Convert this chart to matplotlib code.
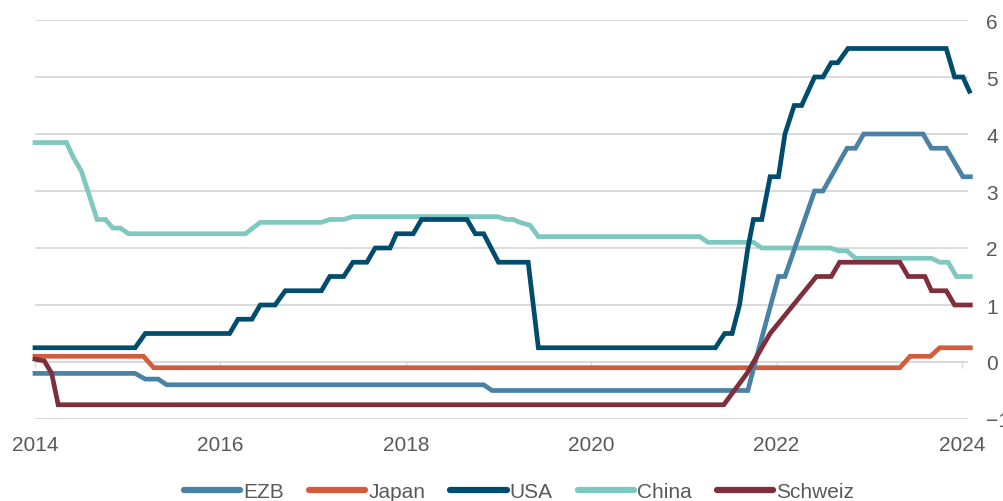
import matplotlib.pyplot as plt

plt.rcParams["font.family"] = ["Liberation Sans", "DejaVu Sans"]

# Leitzinsen, x in Jahren (Achsenposition), y in Prozent
ezb_x = [2014.00, 2015.08, 2015.19, 2015.33, 2015.42, 2018.84, 2018.93, 2021.69, 2021.77,
         2022.02, 2022.09, 2022.41, 2022.50, 2022.76, 2022.85, 2022.94, 2023.58, 2023.67,
         2023.83, 2024.01, 2024.09]
ezb_y = [-0.2, -0.2, -0.3, -0.3, -0.4, -0.4, -0.5, -0.5, 0.0,
         1.5, 1.5, 3.0, 3.0, 3.75, 3.75, 4.0, 4.0, 3.75,
         3.75, 3.25, 3.25]

japan_x = [2014.00, 2015.17, 2015.28, 2023.33, 2023.44, 2023.66, 2023.76, 2024.09]
japan_y = [0.1, 0.1, -0.1, -0.1, 0.1, 0.1, 0.25, 0.25]

usa_x = [2014.00, 2015.08, 2015.19, 2016.10, 2016.19, 2016.34, 2016.43, 2016.59, 2016.70,
         2017.09, 2017.18, 2017.33, 2017.43, 2017.58, 2017.67, 2017.83, 2017.90, 2018.08,
         2018.17, 2018.66, 2018.75, 2018.84, 2019.00, 2019.32, 2019.43, 2021.34, 2021.44,
         2021.52, 2021.60, 2021.69, 2021.75, 2021.84, 2021.93, 2022.02, 2022.09, 2022.19,
         2022.27, 2022.41, 2022.50, 2022.59, 2022.66, 2022.77, 2023.83, 2023.92, 2024.01,
         2024.08]
usa_y = [0.25, 0.25, 0.5, 0.5, 0.75, 0.75, 1.0, 1.0, 1.25,
         1.25, 1.5, 1.5, 1.75, 1.75, 2.0, 2.0, 2.25, 2.25,
         2.5, 2.5, 2.25, 2.25, 1.75, 1.75, 0.25, 0.25, 0.5,
         0.5, 1.0, 2.0, 2.5, 2.5, 3.25, 3.25, 4.0, 4.5,
         4.5, 5.0, 5.0, 5.25, 5.25, 5.5, 5.5, 5.0, 5.0,
         4.75]

china_x = [2014.00, 2014.34, 2014.41, 2014.50, 2014.67, 2014.76, 2014.84, 2014.92, 2015.01,
           2016.27, 2016.43, 2017.09, 2017.18, 2017.33, 2017.43, 2018.99, 2019.09, 2019.16,
           2019.23, 2019.34, 2019.43, 2021.17, 2021.26, 2021.75, 2021.84, 2022.58, 2022.67,
           2022.76, 2022.85, 2023.67, 2023.76, 2023.85, 2023.94, 2024.09]
china_y = [3.85, 3.85, 3.6, 3.35, 2.5, 2.5, 2.35, 2.35, 2.25,
           2.25, 2.45, 2.45, 2.5, 2.5, 2.55, 2.55, 2.5, 2.5,
           2.45, 2.4, 2.2, 2.2, 2.1, 2.1, 2.0, 2.0, 1.95,
           1.95, 1.82, 1.82, 1.75, 1.75, 1.5, 1.5]

schweiz_x = [2014.00, 2014.10, 2014.18, 2014.25, 2021.43, 2021.68, 2021.93, 2022.43, 2022.59,
             2022.68, 2023.33, 2023.42, 2023.60, 2023.67, 2023.83, 2023.92, 2024.09]
schweiz_y = [0.05, 0.02, -0.2, -0.75, -0.75, -0.2, 0.5, 1.5, 1.5,
             1.75, 1.75, 1.5, 1.5, 1.25, 1.25, 1.0, 1.0]

year_ticks = [2014, 2016, 2018, 2020, 2022, 2024]
y_ticks = [-1, 0, 1, 2, 3, 4, 5, 6]

series = [
    ("EZB", ezb_x, ezb_y, "#4a82a6", 4),
    ("Japan", japan_x, japan_y, "#d35c3c", 3),
    ("USA", usa_x, usa_y, "#004c6d", 5),
    ("China", china_x, china_y, "#7ec8c0", 2),
    ("Schweiz", schweiz_x, schweiz_y, "#7f2f3c", 6),
]

fig = plt.figure(figsize=(10.04, 5.02), dpi=100)
ax = fig.add_axes([35 / 1004, 82 / 502, 933 / 1004, 399 / 502])

for name, xs, ys, color, z in series:
    ax.plot(xs, ys, color=color, linewidth=3.4, label=name, zorder=z,
            clip_on=False, solid_joinstyle="miter")

ax.set_xlim(2014, 2014 + 933 / 92.7)
ax.set_ylim(-1, 6)

for s in ax.spines.values():
    s.set_visible(False)
ax.spines["bottom"].set_position(("data", 0))

ax.set_yticks(y_ticks)
ax.yaxis.tick_right()
ax.tick_params(axis="y", length=0, pad=13, labelsize=15, labelcolor="#595959")
ax.grid(axis="y", color="#d9d9d9", linewidth=1.4, zorder=0)
ax.set_axisbelow(True)

ax.set_xticks(year_ticks)
ax.tick_params(axis="x", direction="out", length=4, width=1, color="#d9d9d9",
               labelbottom=False)
for yr in year_ticks:
    ax.text(yr, -1.54, str(yr), ha="center", va="baseline", fontsize=15,
            color="#595959", clip_on=False)

leg = fig.legend(loc="center", bbox_to_anchor=(519 / 1004, 1 - 493 / 502), ncol=5,
                 frameon=False, fontsize=15, handlelength=2.7, handletextpad=0.15,
                 columnspacing=1.2, labelcolor="#595959")
for h in leg.legend_handles:
    h.set_linewidth(4.5)
    h.set_solid_capstyle("round")

fig.savefig("out.png", dpi=100)
